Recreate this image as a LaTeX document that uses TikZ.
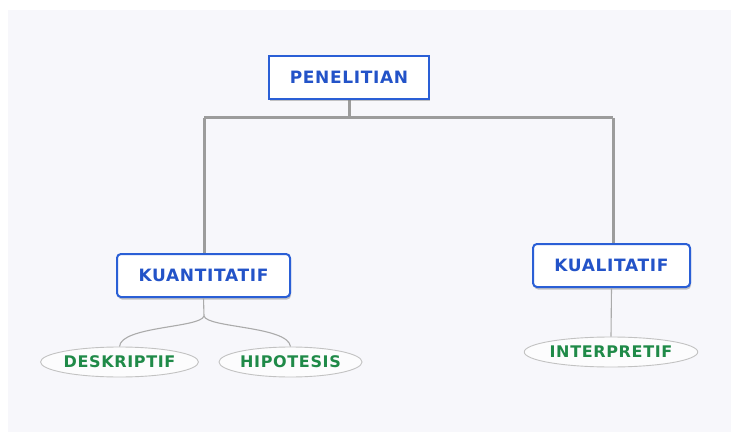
\documentclass[tikz,border=0pt]{standalone}
\usepackage{fontspec}
\newfontfamily\mapfont{DejaVu Sans}[LetterSpace=4]
\usetikzlibrary{shapes.geometric,shadows}

\definecolor{panelcolor}{HTML}{F7F7FB}
\definecolor{topicblue}{HTML}{2A5FD6}
\definecolor{textblue}{HTML}{2353C8}
\definecolor{leafgreen}{HTML}{1F8A48}
\definecolor{trunkgray}{HTML}{9C9C9C}
\definecolor{twiggray}{HTML}{ABABAB}
\definecolor{leafline}{HTML}{C2C2C2}

\tikzset{
  topic/.style={draw=topicblue, line width=2pt, fill=white, text=textblue,
    minimum height=43pt, inner sep=0pt,
    font=\mapfont\bfseries\fontsize{17}{19}\selectfont,
    drop shadow={shadow xshift=1pt, shadow yshift=-2.5pt, opacity=0.45}},
  leaf/.style={ellipse, draw=leafline, line width=0.9pt, fill=white!60!panelcolor,
    text=leafgreen, minimum height=30pt, inner sep=0pt,
    font=\mapfont\bfseries\fontsize{16}{18}\selectfont},
  trunk/.style={draw=trunkgray, line width=3pt},
  twig/.style={draw=twiggray, line width=1.1pt}
}

\begin{document}
\begin{tikzpicture}[x=1pt, y=-1pt]
% page and panel
\useasboundingbox (0,0) rectangle (731,433);
\fill[white] (0,0) rectangle (731,433);
\fill[panelcolor] (8,10) rectangle (731,432);

% connectors first, boxes on top
\coordinate (fork) at (349,118);
\coordinate (split) at (204,316);
\draw[trunk] (349,99) -- (fork);
\draw[trunk] (204,118) -- (613,118);
\draw[trunk] (204,118) -- (204,254);
\draw[trunk] (613,118) -- (613,244);

% topics
\node[topic, minimum width=160pt] (penelitian) at (349,77.5) {PENELITIAN};
\node[topic, minimum width=173pt, rounded corners=4pt] (kuantitatif) at (203.5,275.5) {KUANTITATIF};
\node[topic, minimum width=157pt, rounded corners=4pt] (kualitatif) at (611.5,265.5) {KUALITATIF};

% leaves
\node[leaf, minimum width=157pt] (deskriptif) at (119.5,362) {DESKRIPTIF};
\node[leaf, minimum width=143pt] (hipotesis) at (290.5,362) {HIPOTESIS};
\node[leaf, minimum width=172pt] (interpretif) at (611,352) {INTERPRETIF};

\draw[twig] (kuantitatif.south) -- (split)
  .. controls (201,328) and (121,326) .. (deskriptif.north);
\draw[twig] (split)
  .. controls (207,328) and (288,326) .. (hipotesis.north);
\draw[twig] (kualitatif.south) -- (interpretif.north);
\end{tikzpicture}
\end{document}
